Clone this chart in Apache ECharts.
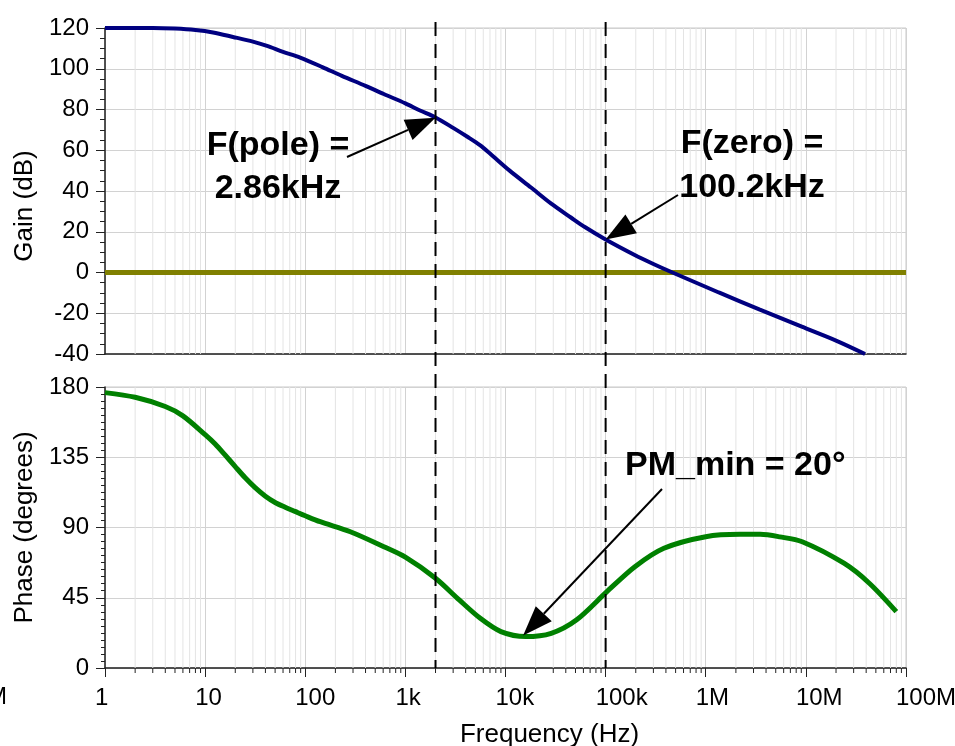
<!DOCTYPE html>
<html><head><meta charset="utf-8">
<script src="https://cdn.jsdelivr.net/npm/echarts@6/dist/echarts.min.js"></script>
<style>html,body{margin:0;padding:0;background:#fff}#c{width:955px;height:746px}</style>
</head><body><div id="c"></div>
<script>
// ---- data ----
const gainFreq = [1, 3, 5, 8, 12, 19, 30, 41.5, 60, 89, 150, 232, 400, 608, 1000, 1400, 2000, 3000, 4200, 5600, 7000, 11000, 18000, 28600, 45000, 62000, 100000, 195000, 300000, 465000, 1350000, 3470000, 9100000, 20000000, 39000000];
const gainDb   = [120, 120, 119.7, 119, 117.8, 115.6, 113.3, 111.2, 108.3, 105.5, 100.7, 96.5, 91.6, 87.6, 83, 79.5, 76.1, 71, 66.5, 62.4, 58.4, 50, 41.7, 33.8, 27, 22.3, 16.2, 8.6, 4.2, 0, -9.8, -18.2, -26.6, -33.4, -40];
const phaseFreq = [1, 2, 4, 6, 10, 12.6, 15.8, 20, 25, 31.6, 40, 50, 63, 79, 100, 141, 282, 610, 1000, 2000, 3450, 5600, 9000, 15900, 28600, 51000, 103000, 196000, 382000, 1000000, 2200000, 3500000, 5500000, 9200000, 24000000, 43000000, 80000000];
const phaseDeg  = [176.4, 173.4, 167.5, 161.5, 149.5, 143.5, 136.5, 129, 122, 115.5, 110, 106, 103, 100.3, 97.5, 93.7, 87.3, 77.7, 71, 57.5, 43.6, 31.8, 23.3, 20.1, 22.2, 30.7, 48.9, 64.9, 76.7, 84.1, 85.6, 85.6, 84, 80.9, 67.1, 54.3, 36.1];
const unityFreq = [1, 100000000];
const unityDb = [0, 0];
const markerFreq = [2000, 100000];
const xTickValues = [1, 10, 100, 1000, 10000, 100000, 1000000, 10000000, 100000000];
const xTickLabels = ['1', '10', '100', '1k', '10k', '100k', '1M', '10M', '100M'];
const minorMultipliers = [2, 3, 4, 5, 6, 7, 8, 9];
const annPoleText = ['F(pole) =', '2.86kHz'];
const annZeroText = ['F(zero) =', '100.2kHz'];
const annPmText = 'PM_min = 20°';
const annPoleTip = [2000, 76];
const annZeroTip = [100000, 16.2];
const annPmTip = [15000, 20.8];

// ---- build ----
const FONT = '"Liberation Sans", Arial, sans-serif';
const minorFreqs = [];
for (let d = 0; d < 8; d++) minorMultipliers.forEach(m => minorFreqs.push([m * Math.pow(10, d), 0]));

function zip(a, b) { return a.map((v, i) => [v, b[i]]); }

function minorRender(yMin, yMax, ticks) {
  return function (params, api) {
    const f = api.value(0);
    const t = api.coord([f, yMax]);
    const b = api.coord([f, yMin]);
    const ch = [{ type: 'line', shape: { x1: t[0], y1: t[1], x2: b[0], y2: b[1] }, style: { stroke: '#e4e4e4', lineWidth: 1 } }];
    if (ticks) ch.push({ type: 'line', shape: { x1: b[0], y1: b[1], x2: b[0], y2: b[1] + 5 }, style: { stroke: '#222', lineWidth: 1 } });
    return { type: 'group', children: ch };
  };
}

const commonX = {
  type: 'log', logBase: 10, min: 1, max: 100000000, splitNumber: 8,
  axisLine: { show: true, onZero: false, lineStyle: { color: '#222', width: 1.5 } },
  splitLine: { show: true, lineStyle: { color: '#d2d2d2', width: 1 } },
  minorTick: { show: false }, minorSplitLine: { show: false }
};
const yCommon = {
  type: 'value',
  axisLine: { show: true, lineStyle: { color: '#222', width: 1.5 } },
  axisTick: { show: true, inside: false, length: 9, lineStyle: { color: '#222', width: 1 } },
  axisLabel: { color: '#000', fontSize: 24, fontFamily: FONT, margin: 16 },
  splitLine: { show: true, lineStyle: { color: '#d2d2d2', width: 1 } },
  nameLocation: 'middle',
  nameTextStyle: { color: '#000', fontSize: 26, fontFamily: FONT }
};

const chart = echarts.init(document.getElementById('c'), null, { renderer: 'canvas' });
chart.setOption({
  animation: false,
  backgroundColor: '#fff',
  grid: [
    { left: 105, top: 28, width: 801, height: 326, show: true, borderColor: '#c8c8c8', borderWidth: 1, containLabel: false, outerBoundsMode: 'none' },
    { left: 105, top: 387, width: 801, height: 281, show: true, borderColor: '#c8c8c8', borderWidth: 1, containLabel: false, outerBoundsMode: 'none' }
  ],
  xAxis: [
    Object.assign({}, commonX, { gridIndex: 0, axisTick: { show: false }, axisLabel: { show: false } }),
    Object.assign({}, commonX, {
      gridIndex: 1,
      axisTick: { show: true, inside: false, length: 9, lineStyle: { color: '#222', width: 1 } },
      axisLabel: {
        show: true, color: '#000', fontSize: 24, fontFamily: FONT, margin: 18,
        align: 'left', padding: [0, 0, 0, -10], showMinLabel: true, showMaxLabel: true,
        formatter: v => xTickLabels[Math.round(Math.log10(v))]
      },
      name: 'Frequency (Hz)', nameLocation: 'middle', nameGap: 54,
      nameTextStyle: { color: '#000', fontSize: 26, fontFamily: FONT, padding: [0, 0, 0, 88] }
    })
  ],
  yAxis: [
    Object.assign({}, yCommon, {
      gridIndex: 0, min: -40, max: 120, interval: 20,
      minorTick: { show: true, splitNumber: 4, length: 5, lineStyle: { color: '#222' } },
      name: 'Gain (dB)', nameGap: 56,
      nameTextStyle: Object.assign({}, yCommon.nameTextStyle, { padding: [0, 0, 0, -30] })
    }),
    Object.assign({}, yCommon, {
      gridIndex: 1, min: 0, max: 180, interval: 45,
      minorTick: { show: true, splitNumber: 10, length: 4, lineStyle: { color: '#222' } },
      name: 'Phase (degrees)', nameGap: 56
    })
  ],
  series: [
    { type: 'custom', xAxisIndex: 0, yAxisIndex: 0, data: minorFreqs, renderItem: minorRender(-40, 120, false), silent: true, z: 1, clip: false },
    { type: 'custom', xAxisIndex: 1, yAxisIndex: 1, data: minorFreqs, renderItem: minorRender(0, 180, true), silent: true, z: 1, clip: false },
    { name: 'Unity', type: 'line', xAxisIndex: 0, yAxisIndex: 0, data: zip(unityFreq, unityDb), showSymbol: false, symbol: 'none', lineStyle: { color: '#808000', width: 5 }, z: 3 },
    { name: 'Gain', type: 'line', xAxisIndex: 0, yAxisIndex: 0, data: zip(gainFreq, gainDb), smooth: 0.3, showSymbol: false, symbol: 'none', lineStyle: { color: '#000080', width: 4 }, z: 4 },
    { name: 'Phase', type: 'line', xAxisIndex: 1, yAxisIndex: 1, data: zip(phaseFreq, phaseDeg), smooth: 0.3, showSymbol: false, symbol: 'none', lineStyle: { color: '#008000', width: 5 }, z: 4 }
  ]
});

function arrow(tail, tip) {
  const dx = tip[0] - tail[0], dy = tip[1] - tail[1];
  const len = Math.hypot(dx, dy), ux = dx / len, uy = dy / len;
  const hl = 30, hw = 11;
  const bx = tip[0] - ux * hl, by = tip[1] - uy * hl;
  const px = -uy, py = ux;
  return [
    { type: 'line', shape: { x1: tail[0], y1: tail[1], x2: bx, y2: by }, style: { stroke: '#000', lineWidth: 2 }, z: 10 },
    { type: 'polygon', shape: { points: [tip, [bx + px * hw, by + py * hw], [bx - px * hw, by - py * hw]] }, style: { fill: '#000' }, z: 10 }
  ];
}
function label(text, x, y, align) {
  return { type: 'text', x: x, y: y, z: 10, style: { text: text, font: 'bold 34px ' + FONT, fill: '#000', align: align || 'center', verticalAlign: 'middle' } };
}

const g = [];
const bottomY = chart.convertToPixel({ xAxisIndex: 1, yAxisIndex: 1 }, [1, 0])[1];
markerFreq.forEach(f => {
  const x = chart.convertToPixel({ xAxisIndex: 1, yAxisIndex: 1 }, [f, 0])[0];
  g.push({ type: 'line', z: 9, shape: { x1: x, y1: 22, x2: x, y2: bottomY }, style: { stroke: '#000', lineWidth: 2, lineDash: [14, 8] } });
});
const tipPole = chart.convertToPixel({ xAxisIndex: 0, yAxisIndex: 0 }, annPoleTip);
const tipZero = chart.convertToPixel({ xAxisIndex: 0, yAxisIndex: 0 }, annZeroTip);
const tipPm = chart.convertToPixel({ xAxisIndex: 1, yAxisIndex: 1 }, annPmTip);
g.push(...arrow([347, 157], tipPole));
g.push(...arrow([678, 195], tipZero));
g.push(...arrow([662, 489], tipPm));
g.push(label(annPoleText[0], 278, 146));
g.push(label(annPoleText[1], 278, 189));
g.push(label(annZeroText[0], 752, 144));
g.push(label(annZeroText[1], 752, 188));
g.push(label(annPmText, 625, 466, 'left'));
g.push({ type: 'text', x: 7, y: 697, z: 10, style: { text: 'M', font: '24px ' + FONT, fill: '#000', align: 'right', verticalAlign: 'middle' } });
chart.setOption({ graphic: g });
</script></body></html>
